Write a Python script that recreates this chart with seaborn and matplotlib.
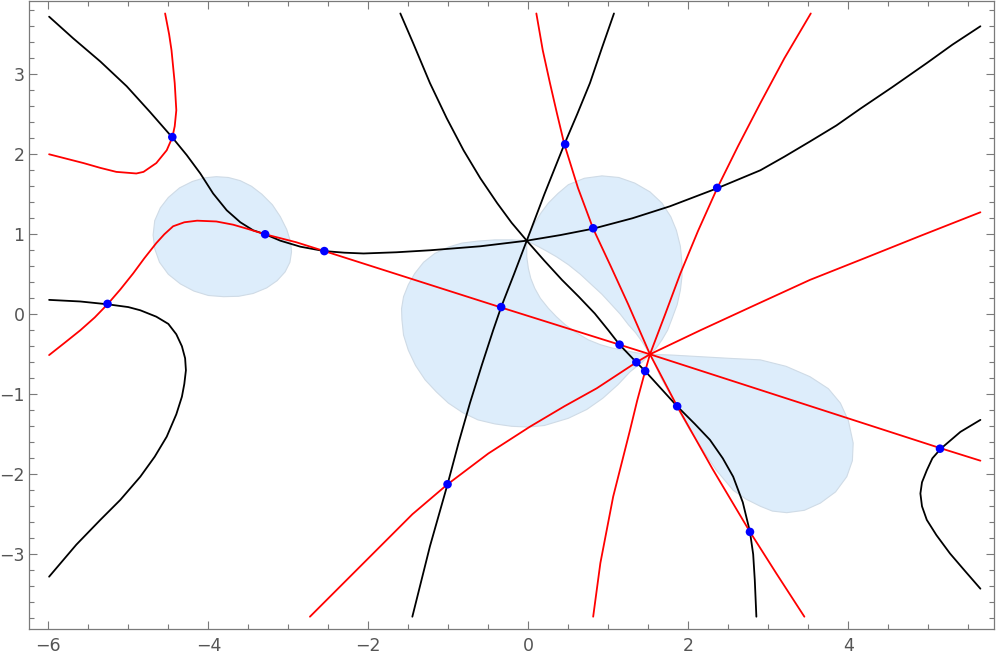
import matplotlib
matplotlib.use("Agg")
import matplotlib.pyplot as plt
import seaborn as sns
from matplotlib.ticker import MultipleLocator

sns.set_style("ticks")
plt.rcParams['font.family'] = ['DejaVu Sans']

# black curves
b1_x = [-5.99, -5.69, -5.35, -5.02, -4.73, -4.45, -4.27, -4.1, -3.94, -3.77, -3.6, -3.44, -3.29, -3.1, -2.85, -2.55,
        -2.3, -2.06, -1.65, -1.23, -0.6, -0.02, 0.4, 0.81, 1.3, 1.77, 2.36, 2.9, 3.2, 3.52, 3.85, 4.15, 4.55, 4.98, 5.3, 5.65]
b1_y = [3.72, 3.45, 3.16, 2.85, 2.53, 2.21, 1.99, 1.76, 1.51, 1.3, 1.15, 1.05, 1.0, 0.92, 0.845, 0.79,
        0.77, 0.76, 0.775, 0.80, 0.85, 0.92, 0.99, 1.07, 1.2, 1.35, 1.575, 1.8, 1.97, 2.16, 2.36, 2.57, 2.84, 3.14, 3.37, 3.6]
b2_x = [-1.6, -1.44, -1.23, -1.02, -0.81, -0.6, -0.39, -0.21, -0.02, 0.2, 0.42, 0.63, 0.83, 1.0, 1.14, 1.35, 1.46,
        1.66, 1.86, 2.08, 2.27, 2.43, 2.56, 2.68, 2.77, 2.81, 2.83, 2.85]
b2_y = [3.76, 3.39, 2.89, 2.45, 2.05, 1.7, 1.39, 1.145, 0.92, 0.67, 0.43, 0.22, 0.01, -0.2, -0.38, -0.6, -0.71,
        -0.93, -1.15, -1.37, -1.57, -1.8, -2.03, -2.35, -2.72, -3.0, -3.32, -3.78]
b3_x = [-1.45, -1.34, -1.23, -1.01, -0.87, -0.73, -0.58, -0.44, -0.34, -0.18, -0.02, 0.2, 0.45, 0.61, 0.77, 0.92, 1.07]
b3_y = [-3.78, -3.34, -2.9, -2.125, -1.6, -1.11, -0.63, -0.2, 0.09, 0.5, 0.92, 1.5, 2.125, 2.5, 2.89, 3.33, 3.76]
b4_x = [-5.99, -5.6, -5.26, -5.0, -4.85, -4.65, -4.5, -4.4, -4.33, -4.29, -4.28, -4.3, -4.33, -4.4, -4.52, -4.67,
        -4.85, -5.1, -5.35, -5.65, -5.99]
b4_y = [0.18, 0.16, 0.125, 0.09, 0.05, -0.03, -0.12, -0.25, -0.4, -0.55, -0.7, -0.87, -1.03, -1.25, -1.53, -1.78,
        -2.03, -2.32, -2.57, -2.88, -3.28]
b5_x = [5.65, 5.4, 5.155, 5.05, 4.98, 4.92, 4.9, 4.92, 4.98, 5.1, 5.27, 5.45, 5.65]
b5_y = [-1.32, -1.47, -1.68, -1.8, -1.95, -2.1, -2.24, -2.4, -2.57, -2.76, -2.99, -3.2, -3.43]

# red curves
r1_x = [-4.54, -4.49, -4.46, -4.42, -4.4, -4.42, -4.45, -4.52, -4.65, -4.81, -4.9, -5.15, -5.35, -5.56, -5.99]
r1_y = [3.76, 3.5, 3.3, 2.89, 2.55, 2.35, 2.21, 2.05, 1.89, 1.78, 1.76, 1.78, 1.83, 1.89, 2.0]
r2_x = [-5.99, -5.8, -5.6, -5.42, -5.26, -5.1, -4.94, -4.8, -4.65, -4.55, -4.44, -4.3, -4.14, -3.9, -3.69, -3.5,
        -3.29, -2.9, -2.55, -0.34, 1.14, 1.52, 5.155, 5.65]
r2_y = [-0.51, -0.36, -0.2, -0.04, 0.125, 0.31, 0.51, 0.7, 0.89, 1.0, 1.1, 1.15, 1.17, 1.16, 1.12, 1.065,
        1.0, 0.9, 0.79, 0.085, -0.38, -0.5, -1.675, -1.83]
r3_x = [0.1, 0.18, 0.27, 0.36, 0.45, 0.62, 0.81, 1.03, 1.25, 1.52, 1.86, 2.3, 2.77, 3.1, 3.45]
r3_y = [3.76, 3.3, 2.89, 2.5, 2.125, 1.58, 1.07, 0.6, 0.12, -0.5, -1.15, -1.93, -2.72, -3.24, -3.78]
r4_x = [3.53, 3.2, 2.9, 2.62, 2.36, 2.12, 1.9, 1.71, 1.52, 1.46, 1.36, 1.27, 1.06, 0.9, 0.81]
r4_y = [3.76, 3.2, 2.64, 2.1, 1.575, 1.04, 0.51, 0.0, -0.5, -0.71, -1.08, -1.45, -2.28, -3.11, -3.78]
r5_x = [-2.73, -2.48, -2.15, -1.85, -1.45, -1.01, -0.5, 0.02, 0.45, 0.855, 1.35, 1.52, 2.15, 2.8, 3.52, 4.2, 4.9, 5.65]
r5_y = [-3.78, -3.53, -3.2, -2.9, -2.5, -2.125, -1.74, -1.405, -1.15, -0.925, -0.6, -0.5, -0.2, 0.1, 0.43, 0.7, 0.98, 1.275]

# intersection points
dot_x = [-4.45, -3.29, -2.55, -5.26, 0.46, 0.81, 2.36, -0.34, 1.14, 1.35, 1.46, 1.86, 2.77, 5.145, -1.01]
dot_y = [2.215, 1.0, 0.79, 0.13, 2.125, 1.075, 1.58, 0.09, -0.38, -0.6, -0.71, -1.15, -2.72, -1.68, -2.125]

# shaded regions
left_blob_x = [-4.69, -4.67, -4.6, -4.5, -4.36, -4.2, -4.05, -3.9, -3.75, -3.6, -3.46, -3.33, -3.2, -3.1, -3.02,
               -2.97, -2.96, -2.98, -3.04, -3.14, -3.27, -3.44, -3.62, -3.81, -4.0, -4.18, -4.35, -4.5, -4.61, -4.67]
left_blob_y = [0.99, 1.17, 1.33, 1.46, 1.58, 1.66, 1.705, 1.72, 1.71, 1.67, 1.6, 1.5, 1.37, 1.22, 1.06,
               0.9, 0.78, 0.65, 0.53, 0.42, 0.33, 0.26, 0.225, 0.22, 0.235, 0.29, 0.38, 0.5, 0.65, 0.82]
upper_lobe_x = [-0.02, 0.02, 0.08, 0.16, 0.25, 0.37, 0.5, 0.7, 0.92, 1.13, 1.33, 1.52, 1.67, 1.78, 1.85, 1.9, 1.92,
                1.92, 1.9, 1.86, 1.79, 1.74, 1.67, 1.6, 1.52, 1.42, 1.34, 1.25, 1.15, 1.04, 0.92, 0.79, 0.65, 0.5,
                0.35, 0.21, 0.08]
upper_lobe_y = [0.92, 1.02, 1.14, 1.27, 1.39, 1.51, 1.62, 1.7, 1.73, 1.71, 1.64, 1.53, 1.39, 1.22, 1.05, 0.85, 0.64,
                0.47, 0.30, 0.12, -0.07, -0.2, -0.32, -0.42, -0.5, -0.34, -0.23, -0.13, 0.0, 0.12, 0.25, 0.37, 0.5, 0.62,
                0.72, 0.80, 0.87]
lower_lobe_x = [-0.02, -0.2, -0.42, -0.63, -0.83, -1.0, -1.17, -1.31, -1.42, -1.5, -1.56, -1.585, -1.58, -1.56, -1.5,
                -1.41, -1.29, -1.15, -1.0, -0.82, -0.63, -0.42, -0.21, 0.0, 0.2, 0.5, 0.73, 0.93, 1.12, 1.27, 1.42,
                1.52, 1.4, 1.29, 1.04, 0.9, 0.75, 0.6, 0.46, 0.35, 0.25, 0.15, 0.08, 0.03, 0.0, -0.02, -0.02]
lower_lobe_y = [0.92, 0.93, 0.93, 0.915, 0.89, 0.84, 0.76, 0.65, 0.51, 0.37, 0.22, 0.07, -0.07, -0.26, -0.45,
                -0.64, -0.82, -0.97, -1.11, -1.23, -1.32, -1.37, -1.40, -1.41, -1.39, -1.3, -1.19, -1.05, -0.88, -0.72, -0.6,
                -0.5, -0.49, -0.47, -0.42, -0.38, -0.32, -0.23, -0.13, -0.03, 0.075, 0.2, 0.325, 0.45, 0.575, 0.72, 0.87]
right_lobe_x = [1.52, 1.8, 2.15, 2.5, 2.9, 3.22, 3.52, 3.75, 3.9, 4.0, 4.06, 4.05, 3.98, 3.84, 3.65, 3.45, 3.23,
                3.05, 2.9, 2.72, 2.56, 2.35, 2.15, 2.02, 1.9, 1.77, 1.65, 1.57]
right_lobe_y = [-0.5, -0.51, -0.53, -0.55, -0.57, -0.65, -0.78, -0.93, -1.11, -1.33, -1.61, -1.83, -2.03, -2.22, -2.36,
                -2.45, -2.48, -2.46, -2.4, -2.31, -2.2, -1.95, -1.65, -1.45, -1.24, -1.0, -0.78, -0.6]

fig = plt.figure(figsize=(10, 6.59), dpi=100)
ax = fig.add_axes([0.0293, 0.0455, 0.9647, 0.953])

fill_c = '#ddedfb'
edge_c = '#cfdbe6'
for bx, by in [(left_blob_x, left_blob_y), (upper_lobe_x, upper_lobe_y),
               (lower_lobe_x, lower_lobe_y), (right_lobe_x, right_lobe_y)]:
    ax.fill(bx, by, facecolor=fill_c, edgecolor=edge_c, lw=0.8, zorder=1)

for cx, cy in [(b1_x, b1_y), (b2_x, b2_y), (b3_x, b3_y), (b4_x, b4_y), (b5_x, b5_y)]:
    sns.lineplot(x=cx, y=cy, sort=False, estimator=None, color='black', lw=1.3, ax=ax, zorder=2)
for cx, cy in [(r1_x, r1_y), (r2_x, r2_y), (r3_x, r3_y), (r4_x, r4_y), (r5_x, r5_y)]:
    sns.lineplot(x=cx, y=cy, sort=False, estimator=None, color='#ff0000', lw=1.3, ax=ax, zorder=3)

sns.scatterplot(x=dot_x, y=dot_y, color='#0000ff', s=38, edgecolor='none', ax=ax, zorder=4)

ax.set_xlim(-6.2375, 5.82)
ax.set_ylim(-3.934, 3.916)
ax.xaxis.set_major_locator(MultipleLocator(2))
ax.xaxis.set_minor_locator(MultipleLocator(0.5))
ax.yaxis.set_major_locator(MultipleLocator(1))
ax.yaxis.set_minor_locator(MultipleLocator(0.2))
frame_c = '#7a7a7a'
ax.tick_params(which='both', direction='in', top=True, right=True, color=frame_c,
               labelcolor='#555555', labelsize=12.5, width=0.8)
ax.tick_params(which='major', length=6)
ax.tick_params(which='minor', length=3.5)
ax.tick_params(axis='x', pad=6)
for sp in ax.spines.values():
    sp.set_color(frame_c)
    sp.set_linewidth(0.9)

fig.savefig('out.png', dpi=100)
